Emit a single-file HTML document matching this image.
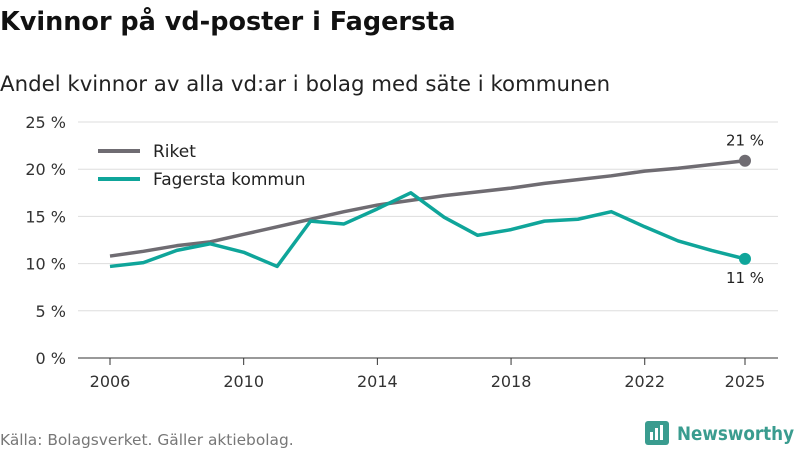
<!DOCTYPE html>
<html><head><meta charset="utf-8"><style>
body{margin:0;width:800px;height:450px;background:#fff;font-family:"DejaVu Sans","Liberation Sans",sans-serif;overflow:hidden}
</style></head><body>
<svg id="c" width="800" height="450">
<text x="0" y="30" font-size="25.5" font-weight="bold" fill="#111">Kvinnor på vd-poster i Fagersta</text>
<text x="0" y="91" font-size="21.3" fill="#222">Andel kvinnor av alla vd:ar i bolag med säte i kommunen</text>
<g id="grid"></g><g id="lines"></g>
<text x="0" y="445" font-size="15.4" fill="#777">Källa: Bolagsverket. Gäller aktiebolag.</text>
<g>
<rect x="645" y="421" width="24" height="24" rx="3" fill="#3a9c8f"/>
<rect x="650" y="432" width="3" height="8" fill="#fff"/><rect x="655" y="428" width="3" height="12" fill="#fff"/><rect x="660" y="425" width="3" height="15" fill="#fff"/>
<text x="677" y="440" font-size="19" font-weight="bold" fill="#3a9c8f" textLength="117" lengthAdjust="spacingAndGlyphs">Newsworthy</text></g>
</svg>
<script>
const years=[2006,2007,2008,2009,2010,2011,2012,2013,2014,2015,2016,2017,2018,2019,2020,2021,2022,2023,2024,2025];
const riket=[10.8,11.3,11.9,12.3,13.1,13.9,14.7,15.5,16.2,16.7,17.2,17.6,18.0,18.5,18.9,19.3,19.8,20.1,20.5,20.9];
const fagersta=[9.7,10.1,11.4,12.1,11.2,9.7,14.5,14.2,15.8,17.5,14.9,13.0,13.6,14.5,14.7,15.5,13.9,12.4,11.4,10.5];
const yTicks=[0,5,10,15,20,25];
const xTicks=[2006,2010,2014,2018,2022,2025];
const NS="http://www.w3.org/2000/svg";
const x=v=>110+(v-2006)*(745-110)/19;
const y=v=>358-v*(358-122)/25;
function mk(t,a,p){const e=document.createElementNS(NS,t);for(const k in a)e.setAttribute(k,a[k]);p.appendChild(e);return e;}
const g=document.getElementById('grid'),L=document.getElementById('lines');
yTicks.forEach(t=>{
 const l=mk('line',{x1:78,x2:778,y1:y(t),y2:y(t),stroke:t?'#ddd':'#333','stroke-width':1},g);
 
 
 const tx=mk('text',{x:66,y:y(t)+6,'text-anchor':'end','font-size':16,fill:'#333'},g);tx.textContent=t+' %';
 
 
});
xTicks.forEach(t=>{
 const l=mk('line',{x1:x(t),x2:x(t),y1:358,y2:365,stroke:'#333'},g);
 
 
 const tx=mk('text',{x:x(t),y:387,'text-anchor':'middle','font-size':16,fill:'#333'},g);tx.textContent=t;
 
 
});
function series(vals,col,name,lab,dy){
 const p=mk('polyline',{points:vals.map((v,i)=>x(years[i])+','+y(v)).join(' '),fill:'none',stroke:col,'stroke-width':3.5,'stroke-linejoin':'round'},L);
 
 
 const n=vals.length-1;
 const c=mk('circle',{cx:x(years[n]),cy:y(vals[n]),r:6,fill:col},L);
 
 
 const t=mk('text',{x:x(years[n]),y:y(vals[n])+dy,'text-anchor':'middle','font-size':15,fill:'#222'},L);
 t.textContent=lab+' %';
 
 
}
series(riket,'#6f6c72','riket',Math.round(riket[riket.length-1]),-15);
series(fagersta,'#0fa59a','fagersta',Math.round(fagersta[fagersta.length-1]),24);
[['Riket','#6f6c72',151],['Fagersta kommun','#0fa59a',179]].forEach(([n,c,yy])=>{
 const l=mk('line',{x1:98,x2:140,y1:yy,y2:yy,stroke:c,'stroke-width':4},L);
 
 
 const t=mk('text',{x:153,y:yy+6,'font-size':17,fill:'#222'},L);t.textContent=n;
 
 
});
</script>
</body></html>
